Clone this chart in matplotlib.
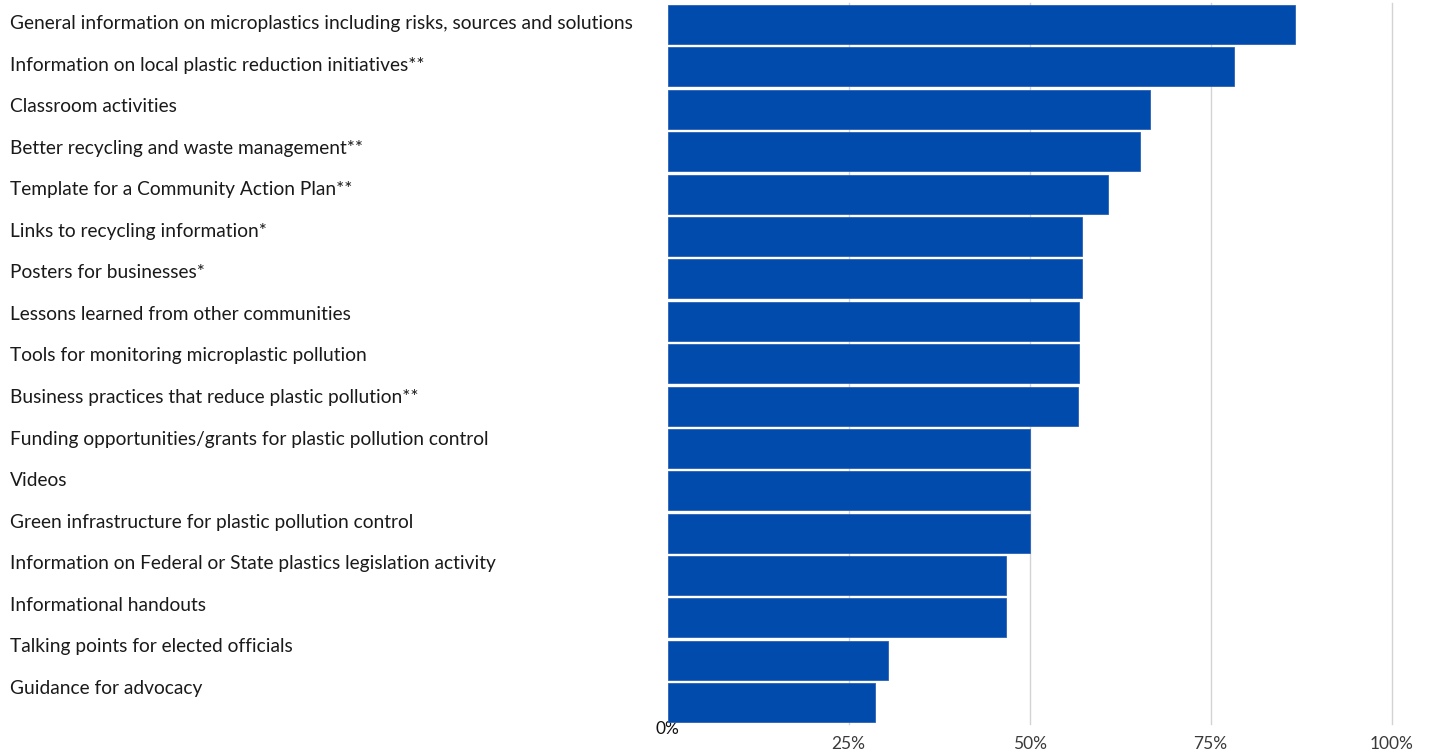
import matplotlib.pyplot as plt

plt.rcParams['font.family'] = ['Lato', 'DejaVu Sans']

# 数据
categories = [
    'General information on microplastics including risks, sources and solutions',
    'Information on local plastic reduction initiatives**',
    'Classroom activities',
    'Better recycling and waste management**',
    'Template for a Community Action Plan**',
    'Links to recycling information*',
    'Posters for businesses*',
    'Lessons learned from other communities',
    'Tools for monitoring microplastic pollution',
    'Business practices that reduce plastic pollution**',
    'Funding opportunities/grants for plastic pollution control',
    'Videos',
    'Green infrastructure for plastic pollution control',
    'Information on Federal or State plastics legislation activity',
    'Informational handouts',
    'Talking points for elected officials',
    'Guidance for advocacy',
]
values = [86.7, 78.2, 66.7, 65.3, 60.9, 57.2, 57.2, 56.8, 56.8, 56.7,
          50.1, 50.1, 50.1, 46.7, 46.7, 30.5, 28.7]
x_ticks = [25, 50, 75, 100]
x_tick_labels = ['25%', '50%', '75%', '100%']

W, H = 1431, 751
fig = plt.figure(figsize=(W / 100, H / 100), dpi=100)
ax = fig.add_axes([0.4665, 0.036, 0.5059, 0.9595])

y = list(range(len(categories)))
ax.barh(y, values, height=0.92, color='#014BAD', edgecolor='#2A62B8',
        linewidth=0.6, zorder=2)
ax.set_ylim(len(categories) - 0.5, -0.5)
ax.set_xlim(0, 100)

# 网格线和刻度
ax.set_xticks(x_ticks)
ax.set_xticklabels(x_tick_labels)
ax.set_xticks([0], ['0%'], minor=True)
ax.grid(axis='x', color='#D3D3D3', linewidth=1, zorder=0)
for gl in ax.get_xgridlines():
    gl.set_clip_on(False)
ax.tick_params(axis='x', which='major', length=0, pad=9, labelsize=12.5,
               labelcolor='#3A3A3A')
ax.tick_params(axis='x', which='minor', length=0, pad=-2, labelsize=12.5,
               labelcolor='#111111')
ax.set_yticks([])
for s in ax.spines.values():
    s.set_visible(False)

# 左侧标签（行距比柱子略小）
for i, c in enumerate(categories):
    fig.text(10 / W, 1 - (23.5 + i * 41.56) / H, c, ha='left', va='center',
             fontsize=13.8, color='#1A1A1A')

fig.savefig('out.png', dpi=100)
